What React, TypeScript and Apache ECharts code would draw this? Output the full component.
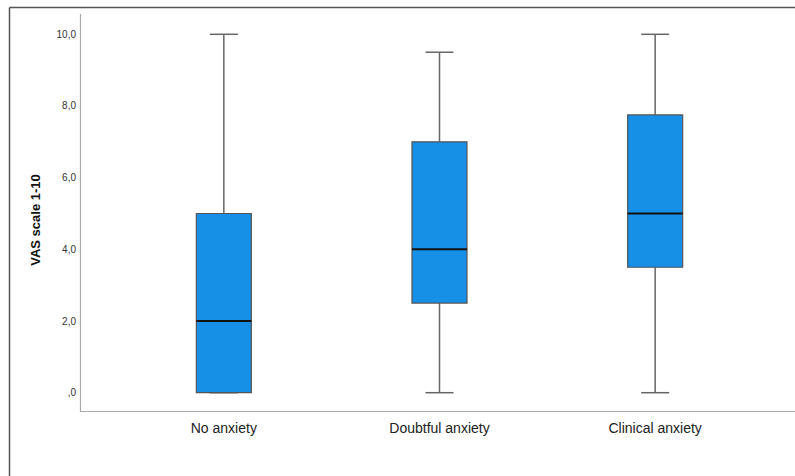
import React, { useEffect, useRef } from "react";
import * as echarts from "echarts";

const categories = ["No anxiety", "Doubtful anxiety", "Clinical anxiety"];
// [min, Q1, median, Q3, max]
const boxData = [
  [0, 0, 2, 5, 10],
  [0, 2.5, 4, 7, 9.5],
  [0, 3.5, 5, 7.75, 10],
];
const yTicks = [0, 2, 4, 6, 8, 10];

export default function App() {
  const ref = useRef<HTMLDivElement>(null);
  useEffect(() => {
    if (!ref.current) return;
    const chart = echarts.init(ref.current, null, { renderer: "svg" });
    const option = {
      animation: false,
      backgroundColor: "#ffffff",
      grid: { left: 116, width: 647, top: 34.3, height: 358.4 },
      xAxis: {
        type: "category",
        data: categories,
        axisLine: { show: false },
        axisTick: { show: false },
        axisLabel: {
          margin: 28,
          fontSize: 14,
          color: "#222",
          fontFamily: "Liberation Sans, Arial, sans-serif",
        },
      },
      yAxis: {
        type: "value",
        min: yTicks[0],
        max: yTicks[yTicks.length - 1],
        interval: 2,
        axisLine: { show: false },
        axisTick: { show: false },
        splitLine: { show: false },
        axisLabel: {
          margin: 40,
          fontSize: 10,
          color: "#333",
          fontFamily: "Liberation Sans, Arial, sans-serif",
          formatter: (v: number) =>
            v === 0 ? ",0" : v.toFixed(1).replace(".", ","),
        },
      },
      graphic: [
        { type: "line", shape: { x1: 9.5, y1: 7.5, x2: 795, y2: 7.5 }, style: { stroke: "#555", lineWidth: 1.5 } },
        { type: "line", shape: { x1: 9.5, y1: 7.5, x2: 9.5, y2: 476 }, style: { stroke: "#555", lineWidth: 1.5 } },
        { type: "line", shape: { x1: 80.5, y1: 14, x2: 80.5, y2: 412 }, style: { stroke: "#aaa", lineWidth: 1.2 } },
        { type: "line", shape: { x1: 80, y1: 411.5, x2: 795, y2: 411.5 }, style: { stroke: "#aaa", lineWidth: 1.2 } },
        {
          type: "text",
          x: 35,
          y: 220,
          rotation: Math.PI / 2,
          style: {
            text: "VAS scale 1-10",
            fill: "#111",
            fontSize: 13,
            fontWeight: "bold",
            fontFamily: "Liberation Sans, Arial, sans-serif",
            align: "center",
            verticalAlign: "middle",
          },
        },
      ],
      series: [
        {
          type: "custom",
          data: boxData.map((d, i) => [i, ...d]),
          encode: { x: 0, y: [1, 2, 3, 4, 5] },
          renderItem: (params: any, api: any) => {
            const idx = api.value(0);
            const vals = [1, 2, 3, 4, 5].map((k) => api.value(k));
            const pts = vals.map((v) => api.coord([idx, v]));
            const cx = pts[0][0];
            const half = 27.5;
            const capHalf = 14;
            const [pMin, pQ1, pMed, pQ3, pMax] = pts.map((p: number[]) => p[1]);
            const wStyle = { stroke: "#666", lineWidth: 1.5 };
            return {
              type: "group",
              children: [
                { type: "line", shape: { x1: cx, y1: pMax, x2: cx, y2: pQ3 }, style: wStyle },
                { type: "line", shape: { x1: cx, y1: pQ1, x2: cx, y2: pMin }, style: wStyle },
                { type: "line", shape: { x1: cx - capHalf, y1: pMax, x2: cx + capHalf, y2: pMax }, style: wStyle },
                { type: "line", shape: { x1: cx - capHalf, y1: pMin, x2: cx + capHalf, y2: pMin }, style: wStyle },
                {
                  type: "rect",
                  shape: { x: cx - half, y: pQ3, width: half * 2, height: pQ1 - pQ3 },
                  style: { fill: "#1590e6", stroke: "#555", lineWidth: 1.2 },
                },
                { type: "line", shape: { x1: cx - half, y1: pMed, x2: cx + half, y2: pMed }, style: { stroke: "#111", lineWidth: 2 } },
              ],
            };
          },
        },
      ],
    };
    chart.setOption(option as any);
    return () => chart.dispose();
  }, []);
  return (
    <div
      ref={ref}
      style={{ position: "fixed", left: 0, top: 0, width: 795, height: 476 }}
    />
  );
}
